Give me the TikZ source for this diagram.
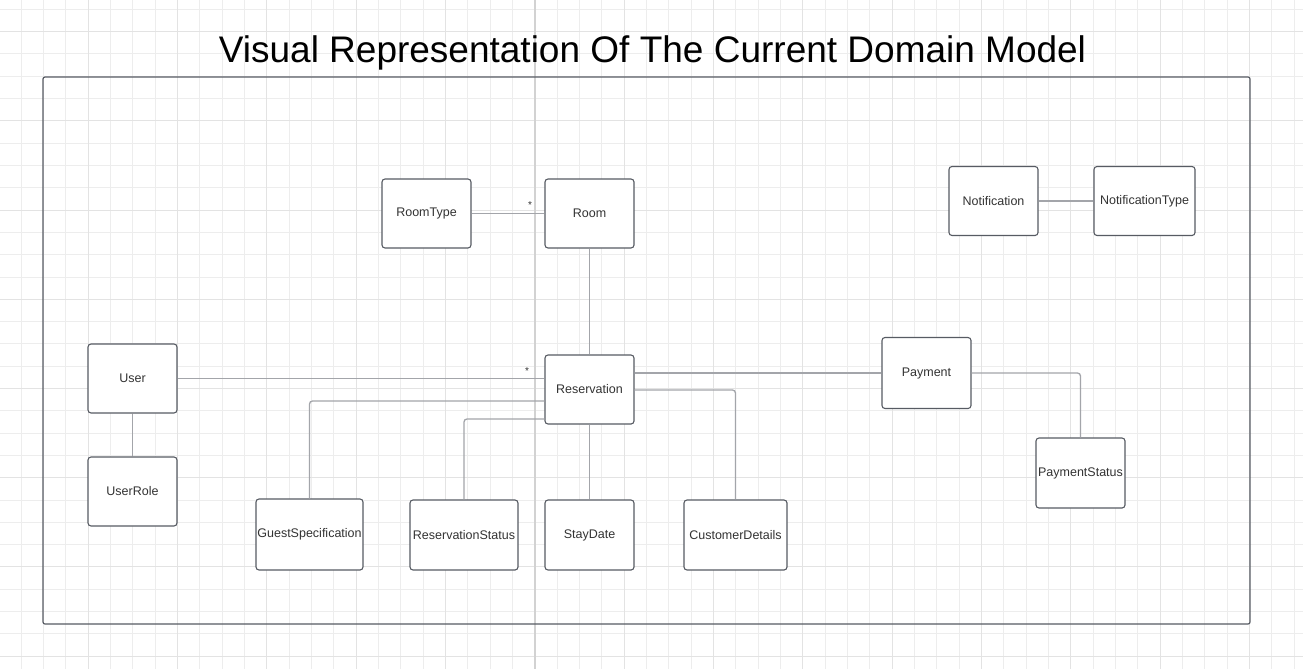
\documentclass[tikz,border=0pt]{standalone}
\usepackage{fontspec}
\setmainfont{Liberation Sans}
\usetikzlibrary{calc}
\definecolor{gridminor}{HTML}{EDEDED}
\definecolor{gridmajor}{HTML}{E3E3E3}
\definecolor{gridmid}{HTML}{D2D2D2}
\definecolor{boxc}{HTML}{575B63}
\definecolor{linkc}{HTML}{A3A5AA}
\definecolor{txtc}{HTML}{333333}
\tikzset{
  cls/.style={draw=boxc, line width=1.1pt, rounded corners=3pt, fill=white,
    minimum width=89pt, minimum height=69pt, inner sep=0pt,
    font=\fontsize{12.5}{14}\selectfont, text=txtc},
  link/.style={draw=linkc, line width=1.3pt, rounded corners=3pt},
  mult/.style={font=\fontsize{10}{12}\selectfont, text=txtc, inner sep=0pt}
}
\begin{document}
\begin{tikzpicture}[x=1pt,y=-1pt]
\useasboundingbox[fill=white] (0,0) rectangle (1303,669);
% grid
\foreach \k in {-3,...,54} {
  \pgfmathsetmacro{\xx}{88.3+22.33*\k}
  \draw[gridminor, line width=1pt] (\xx,0) -- (\xx,669);
}
\foreach \k in {-1,...,28} {
  \pgfmathsetmacro{\yy}{31.7+22.3*\k}
  \draw[gridminor, line width=1pt] (0,\yy) -- (1303,\yy);
}
\foreach \k in {-1,...,13} {
  \pgfmathsetmacro{\xx}{88.3+89.32*\k}
  \draw[gridmajor, line width=1pt] (\xx,0) -- (\xx,669);
}
\foreach \k in {-1,...,7} {
  \pgfmathsetmacro{\yy}{31.7+89.2*\k}
  \draw[gridmajor, line width=1pt] (0,\yy) -- (1303,\yy);
}
\draw[gridmid, line width=1.3pt] (535,0) -- (535,669);
% title
\node[anchor=base, inner sep=0pt, font=\fontsize{37}{40}\selectfont, text=black] (title) at (652.5,63) {Visual Representation Of The Current Domain Model};
% frame
\draw[boxc, line width=1.2pt, rounded corners=2pt] (43,77) rectangle (1250,624);
% classes
\node[cls] (RoomType) at (426.5,213.5) {RoomType};
\node[cls] (Room) at (589.5,213.5) {Room};
\node[cls] (Notif) at (993.5,201) {Notification};
\node[cls, minimum width=101pt] (NotifType) at (1144.5,201) {NotificationType};
\node[cls] (User) at (132.5,378.5) {User};
\node[cls] (Res) at (589.5,389.5) {Reservation};
\node[cls, minimum height=71pt] (Pay) at (926.5,373) {Payment};
\node[cls, minimum height=70pt] (PayStat) at (1080.5,473) {PaymentStatus};
\node[cls] (UserRole) at (132.5,491.5) {UserRole};
\node[cls, minimum width=107pt, minimum height=71pt] (Guest) at (309.5,534.5) {GuestSpecification};
\node[cls, minimum width=108pt, minimum height=70pt] (ResStat) at (464,535) {ReservationStatus};
\node[cls, minimum height=70pt] (Stay) at (589.5,535) {StayDate};
\node[cls, minimum width=103pt, minimum height=70pt] (Cust) at (735.5,535) {CustomerDetails};
% connectors
\draw[link] (RoomType.east) -- (Room.west);
\node[mult] (m1) at (530,205) {*};
\draw[link] (Room.south) -- (Res.north);
\draw[link] (Notif.east) -- (NotifType.west);
\draw[link] (User.east) -- (User.east -| Res.west);
\node[mult] (m2) at (527,371) {*};
\draw[link] (User.south) -- (UserRole.north);
\draw[link] ($(Res.west)+(0,11.5)$) -| (Guest.north);
\draw[link] ($(Res.west)+(0,29.5)$) -| (ResStat.north);
\draw[link] (Res.south) -- (Stay.north);
\draw[link] ($(Res.east)+(0,0.5)$) -| (Cust.north);
\draw[link] (Pay.west -| Res.east) -- (Pay.west);
\draw[link] (Pay.east) -| (PayStat.north);
\end{tikzpicture}
\end{document}
